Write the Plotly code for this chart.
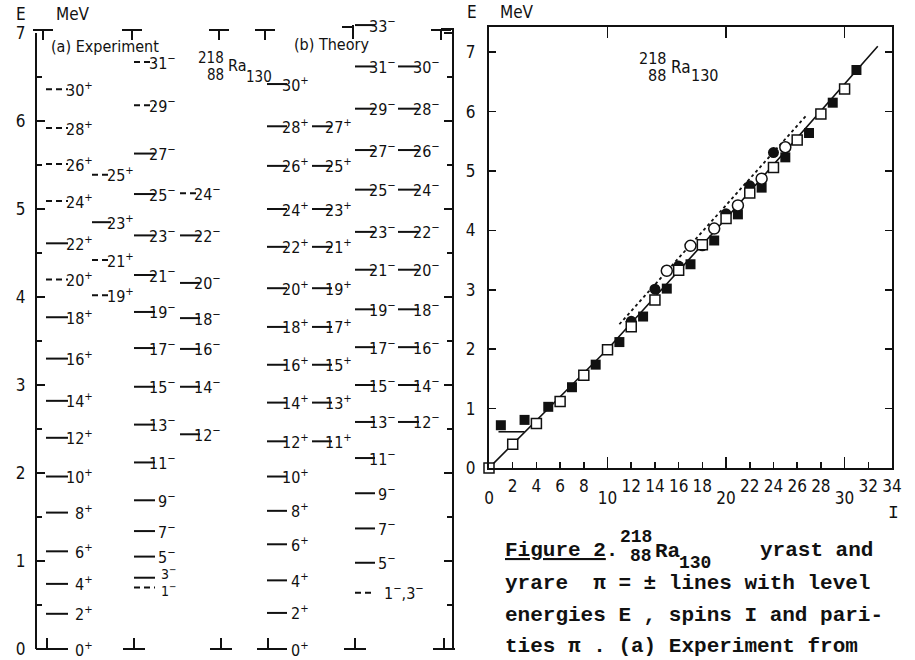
import plotly.graph_objects as go

W, H = 915, 660
INK = "#111111"
FONT = "Liberation Sans Narrow, DejaVu Sans Condensed, Arial Narrow, DejaVu Sans, sans-serif"
MONO = "Liberation Mono, Courier New, monospace"

# ---------------- (a) Experiment: level energies in MeV ----------------
exp_pos_even_spin = [0, 2, 4, 6, 8, 10, 12, 14, 16, 18, 20, 22, 24, 26, 28, 30]
exp_pos_even_E = [0.00, 0.40, 0.74, 1.11, 1.55, 1.96, 2.40, 2.82, 3.30, 3.77, 4.20, 4.61, 5.09, 5.51, 5.92, 6.36]
exp_pos_even_tent = [0, 0, 0, 0, 0, 0, 0, 0, 0, 0, 1, 0, 1, 1, 1, 1]

exp_pos_odd_spin = [19, 21, 23, 25]
exp_pos_odd_E = [4.02, 4.42, 4.85, 5.39]
exp_pos_odd_tent = [1, 1, 0, 1]

exp_neg_odd_spin = [1, 3, 5, 7, 9, 11, 13, 15, 17, 19, 21, 23, 25, 27, 29, 31]
exp_neg_odd_E = [0.70, 0.81, 1.05, 1.34, 1.69, 2.12, 2.55, 2.98, 3.42, 3.83, 4.25, 4.70, 5.17, 5.63, 6.18, 6.67]
exp_neg_odd_tent = [1, 0, 0, 0, 0, 0, 0, 0, 0, 0, 0, 0, 0, 0, 1, 1]

exp_neg_even_spin = [12, 14, 16, 18, 20, 22, 24]
exp_neg_even_E = [2.44, 2.98, 3.41, 3.76, 4.16, 4.70, 5.18]
exp_neg_even_tent = [0, 0, 0, 0, 0, 0, 1]

# ---------------- (b) Theory: level energies in MeV ----------------
th_pos_even_spin = [0, 2, 4, 6, 8, 10, 12, 14, 16, 18, 20, 22, 24, 26, 28, 30]
th_pos_even_E = [0.00, 0.41, 0.78, 1.19, 1.57, 1.96, 2.36, 2.80, 3.23, 3.66, 4.10, 4.57, 5.00, 5.49, 5.94, 6.42]
th_pos_even_tent = [0] * 16

th_pos_odd_spin = [11, 13, 15, 17, 19, 21, 23, 25, 27]
th_pos_odd_E = [2.36, 2.80, 3.23, 3.66, 4.10, 4.57, 5.00, 5.49, 5.94]
th_pos_odd_tent = [0] * 9

th_neg_odd_spin = ["1,3", 5, 7, 9, 11, 13, 15, 17, 19, 21, 23, 25, 27, 29, 31, 33]
th_neg_odd_E = [0.64, 0.98, 1.37, 1.77, 2.17, 2.58, 3.00, 3.43, 3.86, 4.31, 4.74, 5.22, 5.67, 6.14, 6.62, 7.09]
th_neg_odd_tent = [1] + [0] * 15

th_neg_even_spin = [12, 14, 16, 18, 20, 22, 24, 26, 28, 30]
th_neg_even_E = [2.58, 3.00, 3.43, 3.86, 4.31, 4.74, 5.22, 5.67, 6.14, 6.62]
th_neg_even_tent = [0] * 10

# ---------------- E versus I plot ----------------
yrast_pos_I = [0, 2, 4, 6, 8, 10, 12, 14, 16, 18, 20, 22, 24, 26, 28, 30]
yrast_pos_E = [0.00, 0.40, 0.75, 1.12, 1.56, 1.99, 2.38, 2.83, 3.33, 3.76, 4.20, 4.63, 5.06, 5.52, 5.96, 6.38]
yrast_neg_I = [1, 3, 5, 7, 9, 11, 13, 15, 17, 19, 21, 23, 25, 27, 29, 31]
yrast_neg_E = [0.72, 0.81, 1.03, 1.36, 1.74, 2.12, 2.55, 3.02, 3.43, 3.83, 4.27, 4.72, 5.23, 5.64, 6.15, 6.70]
yrare_neg_I = [12, 14, 16, 18, 20, 22, 24]
yrare_neg_E = [2.47, 3.01, 3.40, 3.74, 4.28, 4.75, 5.31]
yrare_pos_I = [15, 17, 19, 21, 23, 25]
yrare_pos_E = [3.32, 3.74, 4.03, 4.42, 4.87, 5.40]
fit_yrast_I = [0, 10, 20, 32.8]
fit_yrast_E = [0.00, 2.00, 4.20, 7.10]
fit_low_I = [0.8, 3.0]
fit_low_E = [0.61, 0.61]
fit_yrare_I = [11.0, 26.8]
fit_yrare_E = [2.42, 5.94]

x_ticks_upper = [2, 4, 6, 8, 12, 14, 16, 18, 22, 24, 26, 28, 32, 34]
x_ticks_lower = [0, 10, 20, 30]

fig = go.Figure()

# level-scheme columns: (line start, line end, label right edge) in the panel's x units
COLS = {
    "e1": (46, 68, 95), "e2": (92, 111, 136), "e3": (134, 155, 178), "e4": (180, 200, 223),
    "t1": (267, 287, 311), "t2": (312, 332, 354), "t3": (355, 375, 398), "t4": (398, 419, 442),
}


def label_text(spin, sign):
    parts = str(spin).split(",")
    return ",".join(f"{p}<sup>{sign}</sup>" for p in parts)


def add_levels(spins, energies, tent, col, sign, shifts=None, size=16):
    x0, x1, xl = COLS[col]
    sx, sy, dx, dy = [], [], [], []
    for s, e, t in zip(spins, energies, tent):
        if t:
            dx += [x0, x1, None]; dy += [e, e, None]
        else:
            sx += [x0, x1, None]; sy += [e, e, None]
    if sx:
        fig.add_trace(go.Scatter(x=sx, y=sy, mode="lines", line=dict(color=INK, width=2),
                                 hoverinfo="skip", showlegend=False))
    if dx:
        fig.add_trace(go.Scatter(x=dx, y=dy, mode="lines", line=dict(color=INK, width=2, dash="6px,4px"),
                                 hoverinfo="skip", showlegend=False))
    for i, (s, e) in enumerate(zip(spins, energies)):
        txt = label_text(s, sign)
        xa, xanch = xl, "right"
        if isinstance(s, str):
            xa, xanch = x1 + 7, "left"
        fig.add_annotation(x=xa, y=e, xref="x", yref="y", text=txt, showarrow=False,
                           xanchor=xanch, yanchor="middle",
                           yshift=(shifts[i] if shifts else 0),
                           font=dict(family=FONT, size=size, color=INK))


add_levels(exp_pos_even_spin, exp_pos_even_E, exp_pos_even_tent, "e1", "+")
add_levels(exp_pos_odd_spin, exp_pos_odd_E, exp_pos_odd_tent, "e2", "+")
add_levels(exp_neg_odd_spin[:2], exp_neg_odd_E[:2], exp_neg_odd_tent[:2], "e3", "−", shifts=[-3, 5], size=14)
add_levels(exp_neg_odd_spin[2:], exp_neg_odd_E[2:], exp_neg_odd_tent[2:], "e3", "−")
add_levels(exp_neg_even_spin, exp_neg_even_E, exp_neg_even_tent, "e4", "−")
add_levels(th_pos_even_spin, th_pos_even_E, th_pos_even_tent, "t1", "+")
add_levels(th_pos_odd_spin, th_pos_odd_E, th_pos_odd_tent, "t2", "+")
add_levels(th_neg_odd_spin, th_neg_odd_E, th_neg_odd_tent, "t3", "−")
add_levels(th_neg_even_spin, th_neg_even_E, th_neg_even_tent, "t4", "−")

# dummy traces to activate the visible E axes of the level schemes
fig.add_trace(go.Scatter(x=[None], y=[None], xaxis="x", yaxis="y2", showlegend=False))
fig.add_trace(go.Scatter(x=[None], y=[None], xaxis="x", yaxis="y3", showlegend=False))

# ---------------- E(I) plot ----------------
XA, YA = "x4", "y4"
fig.add_trace(go.Scatter(x=fit_yrast_I, y=fit_yrast_E, xaxis=XA, yaxis=YA, mode="lines",
                         line=dict(color=INK, width=1.6), showlegend=False))
fig.add_trace(go.Scatter(x=fit_low_I, y=fit_low_E, xaxis=XA, yaxis=YA, mode="lines",
                         line=dict(color=INK, width=1.6), showlegend=False))
fig.add_trace(go.Scatter(x=fit_yrare_I, y=fit_yrare_E, xaxis=XA, yaxis=YA, mode="lines",
                         line=dict(color=INK, width=1.8, dash="dot"), showlegend=False))
fig.add_trace(go.Scatter(x=yrast_neg_I, y=yrast_neg_E, xaxis=XA, yaxis=YA, mode="markers",
                         marker=dict(symbol="square", size=10, color=INK), cliponaxis=False, showlegend=False))
fig.add_trace(go.Scatter(x=yrare_neg_I, y=yrare_neg_E, xaxis=XA, yaxis=YA, mode="markers",
                         marker=dict(symbol="circle", size=11, color=INK), cliponaxis=False, showlegend=False))
fig.add_trace(go.Scatter(x=yrast_pos_I, y=yrast_pos_E, xaxis=XA, yaxis=YA, mode="markers",
                         marker=dict(symbol="square", size=10, color="white", line=dict(color=INK, width=1.5)),
                         cliponaxis=False, showlegend=False))
fig.add_trace(go.Scatter(x=yrare_pos_I, y=yrare_pos_E, xaxis=XA, yaxis=YA, mode="markers",
                         marker=dict(symbol="circle", size=11, color="white", line=dict(color=INK, width=1.5)),
                         cliponaxis=False, showlegend=False))
fig.add_trace(go.Scatter(x=[None], y=[None], xaxis="x5", yaxis=YA, showlegend=False))


def px(x):
    return x / W


def py(y):
    return 1 - y / H


axis_common = dict(showgrid=False, zeroline=False, linecolor=INK, tickcolor=INK, automargin=False,
                   tickfont=dict(family=FONT, size=17, color=INK))

fig.update_layout(
    width=W, height=H, margin=dict(l=0, r=0, t=0, b=0, pad=0, autoexpand=False),
    paper_bgcolor="white", plot_bgcolor="rgba(0,0,0,0)", showlegend=False,
    xaxis=dict(domain=[0, 1], range=[0, W], visible=False, fixedrange=True, automargin=False),
    yaxis=dict(domain=[0, 1], range=[-0.125, 7.375], visible=False, fixedrange=True, automargin=False),
    yaxis2=dict(domain=[py(649), py(33)], range=[0, 7], anchor="free", position=px(36), side="left",
                showline=True, linewidth=2, ticks="inside", ticklen=8, tickwidth=2, dtick=1,
                ticklabelstandoff=6,
                minor=dict(dtick=0.5, ticks="inside", ticklen=5, tickwidth=1.5, tickcolor=INK),
                **axis_common),
    yaxis3=dict(domain=[py(649), py(28)], range=[0, 7 * (649 - 28) / (649 - 33)], anchor="free",
                position=px(453), side="right", showline=True, linewidth=2, ticks="inside", ticklen=8,
                tickwidth=2, dtick=1, showticklabels=False,
                minor=dict(dtick=0.5, ticks="inside", ticklen=5, tickwidth=1.5, tickcolor=INK),
                **axis_common),
    xaxis4=dict(domain=[px(489), px(892)], range=[0, 34], anchor="y4", showline=True, linewidth=2,
                ticks="inside", ticklen=6, tickwidth=1.5, tickvals=x_ticks_upper,
                ticklabelstandoff=2, **axis_common),
    xaxis5=dict(domain=[px(489), px(892)], range=[0, 34], anchor="y4", overlaying="x4", side="bottom",
                showline=True, linewidth=2, mirror="ticks", ticks="inside", ticklen=11, tickwidth=1.5,
                tickvals=x_ticks_lower, ticklabelstandoff=14, **axis_common),
    yaxis4=dict(domain=[py(468), py(27)], range=[0, (468 - 27) / 59.4], anchor="x4", showline=True,
                linewidth=2, mirror="ticks", ticks="inside", ticklen=7, tickwidth=1.5, dtick=1,
                ticklabelstandoff=8, **axis_common),
)

# T / inverted-T frame marks of the level schemes
shapes = []
for xc in [43, 132, 219, 265, 441]:
    shapes.append(dict(type="line", x0=px(xc - 10), x1=px(xc + 10), y0=py(30), y1=py(30)))
    shapes.append(dict(type="line", x0=px(xc), x1=px(xc), y0=py(30), y1=py(40)))
shapes.append(dict(type="line", x0=px(342), x1=px(353), y0=py(27), y1=py(27)))
shapes.append(dict(type="line", x0=px(353), x1=px(353), y0=py(25), y1=py(39)))
shapes.append(dict(type="line", x0=px(441), x1=px(453), y0=py(29), y1=py(29)))
for xc in [47, 134, 221, 268, 355, 444]:
    shapes.append(dict(type="line", x0=px(xc - 11), x1=px(xc + 11), y0=py(649), y1=py(649)))
    shapes.append(dict(type="line", x0=px(xc), x1=px(xc), y0=py(649), y1=py(638)))
for s in shapes:
    s.update(xref="paper", yref="paper", line=dict(color=INK, width=2))
fig.update_layout(shapes=shapes)


def ann(x, y, text, size=16, family=FONT, xanchor="center"):
    fig.add_annotation(x=px(x), y=py(y), xref="paper", yref="paper", text=text, showarrow=False,
                       xanchor=xanchor, yanchor="middle", font=dict(family=family, size=size, color=INK))


# axis titles and panel labels
ann(21, 14, "E", 17)
ann(73, 14, "MeV", 17)
ann(49, 47, "(a) Experiment", 16, xanchor="left")
ann(292, 45, "(b) Theory", 16, xanchor="left")
ann(226, 58, "218", 15, xanchor="right")
ann(226, 75, "88", 15, xanchor="right")
ann(226, 66, "Ra", 16, xanchor="left")
ann(244, 77, "130", 15, xanchor="left")

ann(472, 12, "E", 17)
ann(517, 12, "MeV", 17)
ann(893, 513, "I", 18, family=MONO)
ann(668, 58, "218", 16, xanchor="right")
ann(668, 76, "88", 16, xanchor="right")
ann(669, 67, "Ra", 17, xanchor="left")
ann(689, 76, "130", 16, xanchor="left")

# caption
ann(503, 550, "<b><u>Figure 2</u>.</b>", 21, MONO, "left")
ann(654, 537, "<b>218</b>", 18, MONO, "right")
ann(654, 556, "<b>88</b>", 18, MONO, "right")
ann(653, 551, "<b>Ra</b>", 21, MONO, "left")
ann(677, 563, "<b>130</b>", 18, MONO, "left")
ann(758, 550, "<b>yrast and</b>", 21, MONO, "left")
ann(503, 583, "<b>yrare  π = ± lines with level</b>", 21, MONO, "left")
ann(503, 615, "<b>energies E , spins I and pari-</b>", 21, MONO, "left")
ann(503, 646, "<b>ties π . (a) Experiment from</b>", 21, MONO, "left")

fig.write_html("out.html", config={"displayModeBar": False, "staticPlot": True},
               post_script="document.body.style.margin='0px';document.body.style.overflow='hidden';")
